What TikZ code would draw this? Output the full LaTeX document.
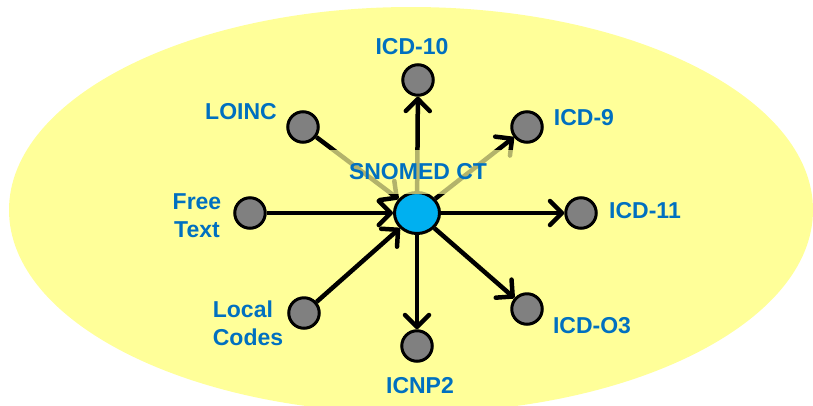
\documentclass[tikz,border=0pt]{standalone}
\usepackage{fontspec}
\setmainfont{Liberation Sans}
\usetikzlibrary{arrows.meta,shapes.geometric}
\definecolor{bgyellow}{RGB}{255,255,153}
\definecolor{lblblue}{RGB}{0,112,192}
\definecolor{hubblue}{RGB}{0,176,240}
\definecolor{dotgray}{RGB}{128,128,128}
\begin{document}
\begin{tikzpicture}[x=1pt,y=-1pt,
  dot/.style={circle,draw=black,line width=3pt,fill=dotgray,minimum size=30.5pt,inner sep=0pt},
  hub/.style={ellipse,draw=black,line width=3pt,fill=hubblue,minimum width=45pt,minimum height=41pt,inner sep=0pt},
  lbl/.style={text=lblblue,font=\fontsize{23}{28}\selectfont\bfseries,inner sep=0pt,align=center},
  link/.style={line width=4.5pt,-{Straight Barb[length=12pt,width=24pt,line cap=round,line join=round]}}]
\useasboundingbox (0,0) rectangle (813,405);
\fill[bgyellow] (411,210) ellipse [x radius=402pt, y radius=203pt];
% nodes
\node[hub] (c) at (417,213) {};
\node[dot] (icd10) at (418,80) {};
\node[dot] (loinc) at (303,127) {};
\node[dot] (free) at (250,213) {};
\node[dot] (icd9) at (527,127) {};
\node[dot] (icd11) at (581,213) {};
\node[dot] (local) at (304,313) {};
\node[dot] (icnp) at (417,346) {};
\node[dot] (icdo) at (527,309) {};
% connectors
\draw[link] (loinc) -- (c);
\draw[link] (free) -- (c);
\draw[link] (local) -- (c);
\draw[link] (c) -- (icd10);
\draw[link] (c) -- (icd9);
\draw[link] (c) -- (icd11);
\draw[link] (c) -- (icdo);
\draw[link] (c) -- (icnp);
% labels
\node[lbl,fill=bgyellow,fill opacity=0.7,text opacity=1,minimum width=190pt,minimum height=44pt] (snomed) at (418,172) {SNOMED CT};
\node[lbl] (ticd10) at (412,47) {ICD-10};
\node[lbl] (tloinc) at (241,112) {LOINC};
\node[lbl] (tfree) at (197,216) {Free\\Text};
\node[lbl] (ticd9) at (584,118) {ICD-9};
\node[lbl] (ticd11) at (645,211) {ICD-11};
\node[lbl,align=left] (tlocal) at (248,323) {Local\\Codes};
\node[lbl] (ticnp) at (420,386) {ICNP2};
\node[lbl] (ticdo) at (592,326) {ICD-O3};
\end{tikzpicture}
\end{document}
